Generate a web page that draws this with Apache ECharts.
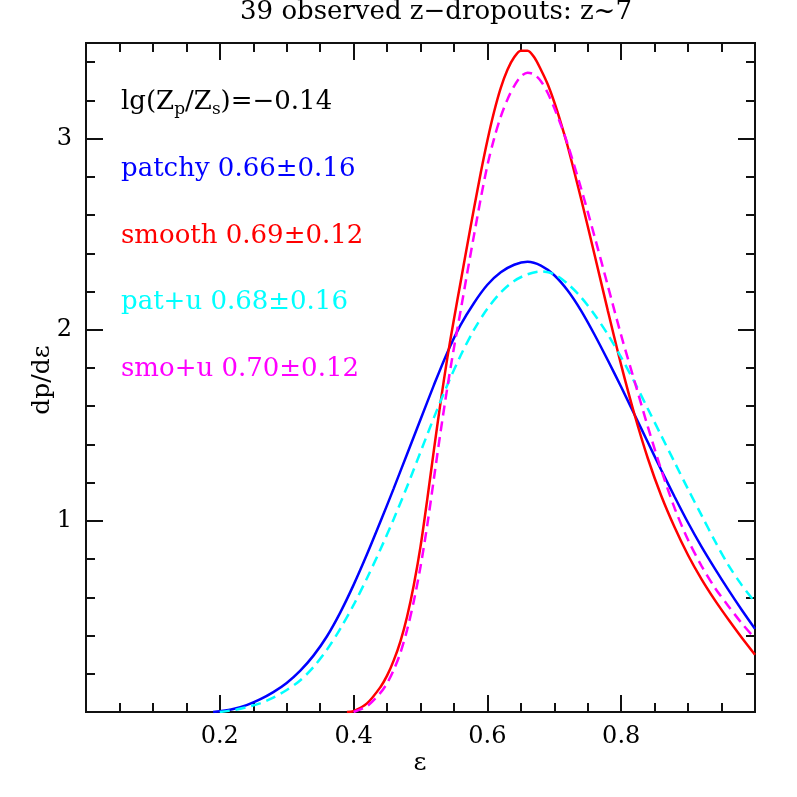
<!DOCTYPE html>
<html><head><meta charset="utf-8">
<script src="https://cdn.jsdelivr.net/npm/echarts@6/dist/echarts.min.js"></script>
<style>html,body{margin:0;padding:0;background:#fff}#c{width:797px;height:797px}</style>
</head><body><div id="c"></div>
<script>
// ---- data ----
const epsPatchy = [0.19,0.20,0.22,0.24,0.26,0.28,0.30,0.32,0.34,0.36,0.38,0.40,0.42,0.44,0.46,0.48,0.50,0.52,0.54,0.56,0.58,0.60,0.62,0.64,0.66,0.68,0.70,0.72,0.74,0.76,0.78,0.80,0.82,0.84,0.86,0.88,0.90,0.92,0.94,0.96,0.98,1.00];
const patchy    = [0,0.004,0.016,0.036,0.066,0.104,0.152,0.215,0.295,0.395,0.52,0.665,0.825,0.995,1.17,1.35,1.53,1.71,1.88,2.025,2.14,2.235,2.30,2.34,2.355,2.335,2.285,2.205,2.10,1.975,1.84,1.70,1.555,1.41,1.265,1.125,0.99,0.865,0.75,0.64,0.535,0.435];

const epsPatU = [0.20,0.22,0.24,0.26,0.28,0.30,0.32,0.34,0.36,0.38,0.40,0.42,0.44,0.46,0.48,0.50,0.52,0.54,0.56,0.58,0.60,0.62,0.64,0.66,0.68,0.70,0.72,0.74,0.76,0.78,0.80,0.82,0.84,0.86,0.88,0.90,0.92,0.94,0.96,0.98,1.00];
const patU    = [0,0.01,0.025,0.045,0.075,0.115,0.165,0.235,0.325,0.435,0.56,0.70,0.85,1.01,1.18,1.36,1.54,1.71,1.865,2.00,2.11,2.195,2.255,2.29,2.305,2.29,2.24,2.17,2.08,1.975,1.855,1.725,1.585,1.445,1.305,1.165,1.03,0.895,0.77,0.665,0.575];

const epsSmooth = [0.39,0.40,0.42,0.44,0.45,0.46,0.47,0.48,0.49,0.50,0.51,0.52,0.53,0.54,0.55,0.56,0.57,0.58,0.59,0.60,0.61,0.62,0.63,0.64,0.65,0.66,0.67,0.68,0.69,0.70,0.71,0.72,0.74,0.76,0.78,0.80,0.82,0.84,0.86,0.88,0.90,0.92,0.94,0.96,0.98,1.00];
const smooth    = [0,0.005,0.045,0.13,0.19,0.27,0.37,0.50,0.665,0.865,1.11,1.37,1.62,1.85,2.055,2.25,2.445,2.635,2.82,2.99,3.14,3.265,3.36,3.425,3.46,3.46,3.425,3.36,3.285,3.19,3.08,2.96,2.685,2.395,2.10,1.815,1.555,1.325,1.13,0.965,0.82,0.695,0.585,0.485,0.39,0.30];

const epsSmoU = [0.40,0.42,0.44,0.45,0.46,0.47,0.48,0.49,0.50,0.51,0.52,0.53,0.54,0.55,0.56,0.57,0.58,0.59,0.60,0.61,0.62,0.63,0.64,0.65,0.66,0.67,0.68,0.69,0.70,0.71,0.72,0.74,0.76,0.78,0.80,0.82,0.84,0.86,0.88,0.90,0.92,0.94,0.96,0.98,1.00];
const smoU    = [0,0.03,0.10,0.15,0.22,0.31,0.43,0.58,0.76,0.975,1.22,1.465,1.695,1.905,2.10,2.30,2.495,2.685,2.86,3.00,3.115,3.205,3.275,3.325,3.345,3.335,3.30,3.24,3.16,3.07,2.97,2.74,2.49,2.23,1.97,1.73,1.49,1.265,1.065,0.90,0.765,0.65,0.555,0.465,0.385];

const xTickLabels = ['0.2','0.4','0.6','0.8'];
const yTickLabels = ['1','2','3'];
const titleText = '39 observed z\u2212dropouts: z~7';
const noteLines = ['patchy 0.66\u00b10.16','smooth 0.69\u00b10.12','pat+u 0.68\u00b10.16','smo+u 0.70\u00b10.12'];
const noteColors = ['#0000ff','#ff0000','#00ffff','#ff00ff'];

// ---- chart ----
const FONT = 'DejaVu Serif';
const AX = {color:'#111', width:2};
function pairs(xs, ys){ return xs.map((x,i)=>[x, ys[i]]); }

function xAx(pos, labels){
  return {type:'value', position:pos, min:0, max:1, interval:0.2,
    axisLine:{show:true, onZero:false, lineStyle:AX},
    axisTick:{show:true, inside:true, length:17, lineStyle:AX},
    minorTick:{show:true, splitNumber:4, length:9, lineStyle:AX},
    splitLine:{show:false}, minorSplitLine:{show:false},
    axisLabel:{show:labels, margin:13, fontFamily:FONT, fontSize:24, color:'#000',
      formatter:v=>{const s=v.toFixed(1); return xTickLabels.includes(s)?s:'';}}};
}
function yAx(pos, interval, len, labels){
  return {type:'value', position:pos, min:0, max:3.5, interval:interval,
    axisLine:{show:true, onZero:false, lineStyle:AX},
    axisTick:{show:true, inside:true, length:len, lineStyle:AX},
    splitLine:{show:false},
    axisLabel:{show:labels, margin:14, fontFamily:FONT, fontSize:24, color:'#000',
      formatter:v=>{const s=String(Math.round(v*1000)/1000); return yTickLabels.includes(s)?s:'';}}};
}

const chart = echarts.init(document.getElementById('c'), null, {renderer:'canvas'});
const noteY = [169,236,302,369];

chart.setOption({
  animation:false,
  backgroundColor:'#fff',
  grid:{left:86, right:42, top:43, bottom:85, containLabel:false},
  xAxis:[xAx('bottom', true), xAx('top', false)],
  yAxis:[yAx('left',1,17,true), yAx('right',1,17,false), yAx('left',0.2,9,false), yAx('right',0.2,9,false)],
  series:[
    {type:'line', name:'patchy', data:pairs(epsPatchy, patchy), showSymbol:false, smooth:0.3, silent:true,
      lineStyle:{color:'#0000ff', width:2.5}, z:2},
    {type:'line', name:'smooth', data:pairs(epsSmooth, smooth), showSymbol:false, smooth:0.3, silent:true,
      lineStyle:{color:'#ff0000', width:2.5}, z:3},
    {type:'line', name:'pat+u', data:pairs(epsPatU, patU), showSymbol:false, smooth:0.3, silent:true,
      lineStyle:{color:'#00ffff', width:2.5, type:[10,6]}, z:4},
    {type:'line', name:'smo+u', data:pairs(epsSmoU, smoU), showSymbol:false, smooth:0.3, silent:true,
      lineStyle:{color:'#ff00ff', width:2.5, type:[10,6]}, z:5}
  ],
  graphic:[
    {type:'text', x:436, y:12, style:{text:titleText, fill:'#000', font:'26px "DejaVu Serif"', align:'center', verticalAlign:'middle'}},
    {type:'text', x:121, y:102, style:{
      text:'{a|lg(Z}{s|p}{a|/Z}{s|s}{a|)=\u22120.14}', fill:'#000', align:'left', verticalAlign:'middle',
      rich:{a:{fontFamily:FONT, fontSize:26, fill:'#000'}, s:{fontFamily:FONT, fontSize:17, fill:'#000', padding:[15,0,0,0]}}}},
    ...noteLines.map((t,i)=>({type:'text', x:121, y:noteY[i],
      style:{text:t, fill:noteColors[i], font:'26px "DejaVu Serif"', align:'left', verticalAlign:'middle'}})),
    {type:'text', x:42, y:380, rotation:Math.PI/2, style:{text:'dp/d\u03b5', fill:'#000', font:'25px "DejaVu Serif"', align:'center', verticalAlign:'middle'}},
    {type:'text', x:420, y:763, style:{text:'\u03b5', fill:'#000', font:'25px "DejaVu Serif"', align:'center', verticalAlign:'middle'}}
  ]
});
</script>
</body></html>
